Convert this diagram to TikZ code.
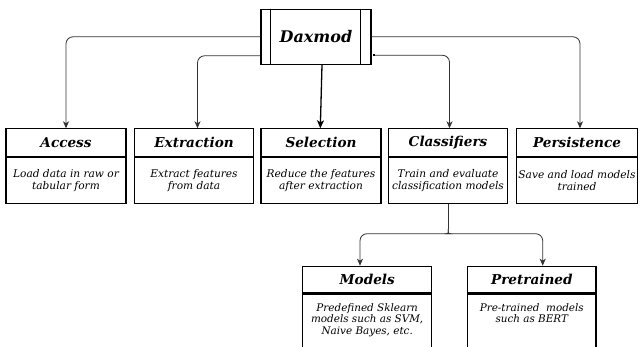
\documentclass[tikz,border=0pt]{standalone}
\usepackage{fontspec}
\setmainfont{DejaVu Serif}
\usetikzlibrary{arrows.meta}
\begin{document}
\begin{tikzpicture}[x=1pt,y=-1pt,
 box/.style={draw=black,line width=1.2pt,fill=white,inner sep=0pt,anchor=north},
 ttl/.style={box,minimum height=27.4pt,font=\bfseries\itshape\fontsize{13.6}{15}\selectfont},
 bdy/.style={box,minimum height=46pt,align=center,font=\itshape\fontsize{10.6}{12.6}\selectfont},
 bdyb/.style={box,minimum height=80pt},
 btxt/.style={anchor=north,inner sep=0pt,align=center,font=\itshape\fontsize{10.4}{11.7}\selectfont},
 conn/.style={draw=black!80,line width=0.8pt,rounded corners=7pt,-{Stealth[length=7pt,width=6pt,inset=2pt]}},
 line/.style={draw=black!80,line width=0.8pt},
 thickarr/.style={draw=black,line width=1.3pt,-{Stealth[length=8pt,width=7pt,inset=2pt]}},
]
\path[use as bounding box,fill=white] (0,0) rectangle (640,347);
\clip (0,0) rectangle (640,347);

% root
\node[draw,line width=1.2pt,fill=white,minimum width=110pt,minimum height=55pt,inner sep=0pt,
      font=\bfseries\itshape\fontsize{16}{18}\selectfont] (dax) at (316,36.8) {Daxmod};
\draw[line width=1.2pt] ([xshift=10pt]dax.north west) -- ([xshift=10pt]dax.south west);
\draw[line width=1.2pt] ([xshift=-11.5pt]dax.north east) -- ([xshift=-11.5pt]dax.south east);

% top row
\node[ttl,minimum width=120pt] (acc) at (66,128.3) {Access};
\node[bdy,minimum width=120pt] (accb) at (acc.south) {Load data in raw or\\tabular form};
\node[ttl,minimum width=119pt] (ext) at (194,128.3) {Extraction};
\node[bdy,minimum width=119pt] (extb) at (ext.south) {Extract features\\from data};
\node[ttl,minimum width=120pt] (sel) at (321,128.3) {Selection};
\node[bdy,minimum width=120pt] (selb) at (sel.south) {Reduce the features\\after extraction};
\node[ttl,minimum width=119pt] (cls) at (448,128.3) {Classifiers};
\node[bdy,minimum width=119pt] (clsb) at (cls.south) {Train and evaluate\\classification models};
\node[ttl,minimum width=121pt] (per) at (577,128.3) {Persistence};
\node[bdy,minimum width=121pt] (perb) at (per.south) {Save and load models\\trained};

% bottom row
\node[ttl,minimum width=129pt,minimum height=26.6pt] (mod) at (367.2,265.7) {Models};
\node[bdyb,minimum width=129pt] (modb) at (mod.south) {};
\node[btxt] (modt) at ([yshift=-9.5pt]modb.north) {Predefined Sklearn\\models such as SVM,\\Naive Bayes, etc.};
\node[ttl,minimum width=128.3pt,minimum height=26.6pt] (pre) at (531.8,265.7) {Pretrained};
\node[bdyb,minimum width=128.3pt] (preb) at (pre.south) {};
\node[btxt] (pret) at ([yshift=-9.5pt]preb.north) {Pre-trained\ \ models\\such as BERT};

% connectors from root
\draw[conn] (dax.west) -| (acc.north);
\draw[conn] ([yshift=-19pt]dax.west) -| ([xshift=3.5pt]ext.north);
\draw[conn] (dax.east) -| ([xshift=3pt]per.north);
\draw[conn] ([xshift=2pt,yshift=-18.5pt]dax.east) -| ([xshift=1.5pt]cls.north);
\fill[black] ([xshift=1.5pt,yshift=-17.5pt]dax.east) rectangle ([xshift=3.5pt,yshift=-19.5pt]dax.east);
\draw[thickarr] ([xshift=6pt]dax.south) -- ([xshift=-0.7pt]sel.north);

% classifiers split
\coordinate (j) at (448.3,229);
\draw[line] ([xshift=0.3pt]clsb.south) -- (j);
\draw[conn] (j) .. controls (448.3,233.7) .. (443.3,233.7) -| ([xshift=-7.2pt]mod.north);
\draw[conn] (j) .. controls (448.3,233.7) .. (453.3,233.7) -| ([xshift=10.9pt]pre.north);
\end{tikzpicture}
\end{document}
